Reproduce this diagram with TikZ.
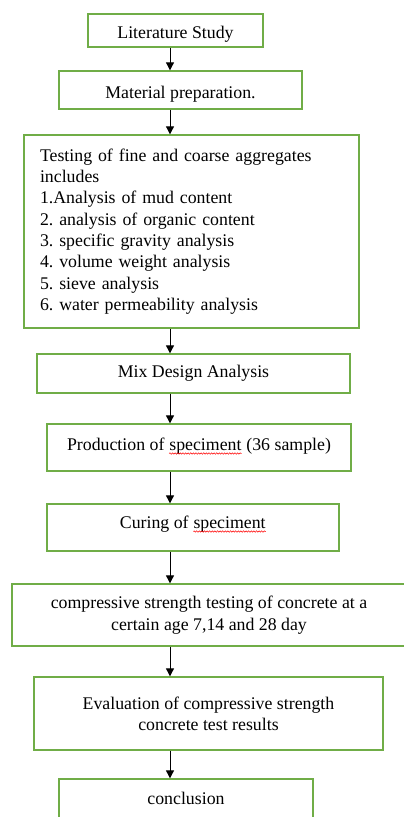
\documentclass[tikz,border=0pt]{standalone}
\usepackage{fontspec}
\setmainfont{Liberation Serif}
\usetikzlibrary{arrows.meta,decorations.pathmorphing}
\definecolor{boxgreen}{HTML}{70AD47}
\newcommand\spellwave[1]{\tikz[baseline=(sw.base)]{%
  \node[draw=none, inner sep=0pt, minimum width=0pt, minimum height=0pt, text height=, text depth=] (sw) {#1};
  \draw[red, line width=0.5pt, decorate, decoration={snake, amplitude=0.7pt, segment length=2.6pt}]
    ([yshift=-3pt]sw.base west) -- ([yshift=-3pt]sw.base east);}}
\tikzset{
  stepbox/.style={draw=boxgreen, line width=1.3pt, inner sep=0pt, align=center,
    font=\fontsize{17.8}{21.3}\selectfont\frenchspacing},
  flow/.style={-{Triangle[length=8pt,width=8pt]}, line width=0.8pt},
}

\begin{document}
\begin{tikzpicture}[x=1pt,y=-1pt]
\useasboundingbox (0,0) rectangle (404,817);
\coordinate (ax) at (170,0);
\node[stepbox, minimum width=175pt, minimum height=33pt, text height=20pt, text depth=4pt] (lit) at (175.5,30.5) {Literature Study};
\node[stepbox, minimum width=243pt, minimum height=38pt, text height=20pt, text depth=4pt] (mat) at (180.5,90) {Material preparation.};
\node[stepbox, minimum width=335pt, minimum height=193pt, align=left, inner xsep=16pt, text width=303pt] (test) at (191.5,231.5)
  {Testing of fine and coarse aggregates\\includes\\1.Analysis of mud content\\2. analysis of organic content\\3. specific gravity analysis\\4. volume weight analysis\\5. sieve analysis\\6. water permeability analysis};
\node[stepbox, minimum width=313pt, minimum height=39pt] (mix) at (193.5,373.5) {Mix Design Analysis};
\node[stepbox, minimum width=304pt, minimum height=47pt, text height=18pt, text depth=12pt] (prod) at (199,447.5) {Production of \spellwave{speciment} (36 sample)};
\node[stepbox, minimum width=292pt, minimum height=47pt, text height=16pt, text depth=14pt] (cure) at (193,527.5) {Curing of \spellwave{speciment}};
\node[stepbox, minimum width=394pt, minimum height=62pt] (comp) at (209,615) {compressive strength testing of concrete at a\\certain age 7,14 and 28 day};
\node[stepbox, minimum width=349pt, minimum height=73pt] (eval) at (208.5,713.5) {Evaluation of compressive strength\\concrete test results};
\node[stepbox, minimum width=254pt, minimum height=52pt, text height=23pt, text depth=25pt] (concl) at (186,805) {conclusion};
% arrows
\draw[flow] (lit.south -| ax) -- (mat.north -| ax);
\draw[flow] (mat.south -| ax) -- (test.north -| ax);
\draw[flow] (test.south -| ax) -- (mix.north -| ax);
\draw[flow] (mix.south -| ax) -- (prod.north -| ax);
\draw[flow] (prod.south -| ax) -- (cure.north -| ax);
\draw[flow] (cure.south -| ax) -- (comp.north -| ax);
\draw[flow] (comp.south -| ax) -- (eval.north -| ax);
\draw[flow] (eval.south -| ax) -- (concl.north -| ax);
\end{tikzpicture}
\end{document}
